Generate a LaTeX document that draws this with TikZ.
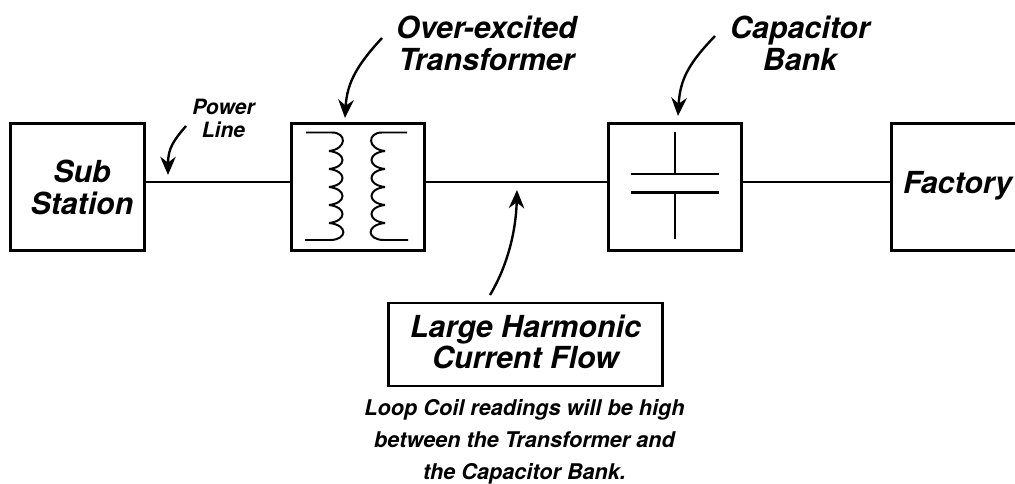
\documentclass[tikz,border=0pt]{standalone}
\usepackage{fontspec}
\setmainfont{TeX Gyre Heros}
\usetikzlibrary{arrows.meta}
\tikzset{
    blockbox/.style={draw, line width=1.9pt, minimum width=95pt, minimum height=90pt, inner sep=0pt},
    wire/.style={line width=1.7pt},
    coil/.style={line width=1.4pt},
    pointer/.style={line width=1.7pt, -{Stealth[length=13pt, width=11pt]}},
    biglabel/.style={font=\fontsize{21.6}{22.7}\selectfont\bfseries\itshape, align=center},
    smalllabel/.style={font=\fontsize{15}{16.5}\selectfont\bfseries\itshape, align=center},
    flowlabel/.style={font=\fontsize{21.6}{22}\selectfont\bfseries\itshape, align=center},
    notelabel/.style={font=\fontsize{15.4}{22.7}\selectfont\bfseries\itshape, align=center}
}
\begin{document}
\begin{tikzpicture}[x=0.025cm, y=-0.025cm]
        \useasboundingbox (0,0) rectangle (1015,483);

        \node[blockbox] (S) at (77.5,187) {};
        \node[blockbox] (T) at (358,187) {};
        \node[blockbox] (C) at (675,187) {};
        \node[blockbox, minimum width=100pt] (F) at (962,187) {};
        \node[draw, line width=1.9pt, minimum width=195pt, minimum height=59pt, inner sep=0pt] (H) at (525.5,344.5) {};

        \node[biglabel] (SL) at (82,187.5) {Sub\\Station};
        \node[biglabel] (FL) at (957.5,186) {Factory};
        \node[biglabel] (OT) at (486.5,43.5) {Over-excited\\Transformer};
        \node[biglabel] (CB) at (800,43.5) {Capacitor\\Bank};
        \node[smalllabel] (PL) at (223.5,118.5) {Power\\Line};
        \node[flowlabel] (HL) at (525.5,341.5) {Large Harmonic\\Current Flow};
        \node[notelabel] (N) at (524.5,442) {Loop Coil readings will be high\\between the Transformer and\\the Capacitor Bank.};

        \coordinate (W) at (0,182);
        \coordinate (A) at (382,38);
        \coordinate (B) at (715,36);
        \coordinate (D) at (186,126);
        \coordinate (E) at (490,295);
        \coordinate (TA) at (345,118);
        \coordinate (CA) at (678,116);
        \coordinate (PA) at (168,175);
        \coordinate (HA) at (517,190);

        \draw[wire] (S.east |- W) -- (T.west |- W);
        \draw[wire] (T.east |- W) -- (C.west |- W);
        \draw[wire] (C.east |- W) -- (F.west |- W);

        \draw[pointer] (A) .. controls (358,64) and (347,82) .. (TA);
        \draw[pointer] (B) .. controls (688,64) and (680,80) .. (CA);
        \draw[pointer] (D) .. controls (174,140) and (168,148) .. (PA);
        \draw[pointer] (E) .. controls (508,265) and (516,230) .. (HA);

        % primary winding
        \draw[coil] (306,132.5) -- (332,132.5) .. controls (347,132.5) and (347,149) .. (329,151);
        \foreach \y in {151,169,187,205}
            \draw[coil] (329,\y) .. controls (347,\y+2) and (347,\y+16) .. (329,\y+18);
        \draw[coil] (329,223) .. controls (349,225) and (347,240) .. (330,240) -- (305,240);

        % secondary winding
        \draw[coil] (407,132.5) -- (382,132.5) .. controls (367,132.5) and (367,149) .. (385,151);
        \foreach \y in {151,169,187,205}
            \draw[coil] (385,\y) .. controls (367,\y+2) and (367,\y+16) .. (385,\y+18);
        \draw[coil] (385,223) .. controls (365,225) and (367,240) .. (384,240) -- (408,240);

        % plates
        \draw[coil] (674.7,132) -- (674.7,174);
        \draw[wire] (631,174) -- (719,174);
        \draw[wire] (631,192.5) -- (719,192.5);
        \draw[coil] (675,192.5) -- (675,239);
    \end{tikzpicture}
\end{document}
